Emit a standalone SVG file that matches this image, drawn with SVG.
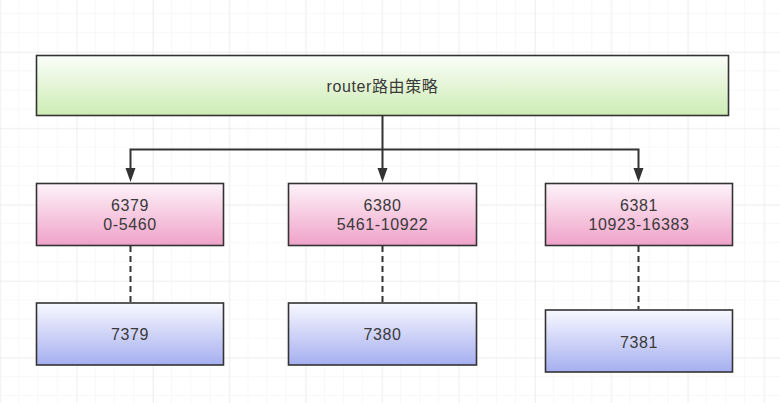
<svg xmlns="http://www.w3.org/2000/svg" width="780" height="403" viewBox="0 0 780 403">
<defs>
<pattern id="minor" width="19.1" height="19.1" patternUnits="userSpaceOnUse" x="0.2" y="14">
<path d="M19.1 0 V19.1 M0 19.1 H19.1" fill="none" stroke="#f1f1f1" stroke-width="1"/>
</pattern>
<pattern id="major" width="76.4" height="76.4" patternUnits="userSpaceOnUse" x="0.2" y="52">
<path d="M0 0 V76.4 M0 0 H76.4" fill="none" stroke="#e6e6e6" stroke-width="1"/>
</pattern>
<linearGradient id="gGreen" x1="0" y1="0" x2="0" y2="1">
<stop offset="0" stop-color="#fbfef9"/>
<stop offset="1" stop-color="#cdecb4"/>
</linearGradient>
<linearGradient id="gPink" x1="0" y1="0" x2="0" y2="1">
<stop offset="0" stop-color="#fdf3f9"/>
<stop offset="1" stop-color="#f0a2c9"/>
</linearGradient>
<linearGradient id="gBlue" x1="0" y1="0" x2="0" y2="1">
<stop offset="0" stop-color="#f8f8ff"/>
<stop offset="1" stop-color="#a6aff0"/>
</linearGradient>
<path id="head" d="M-5 0 L5 0 L0 14 Z" fill="#333"/>
</defs>
<style>
.box{stroke:#333;stroke-width:1.6}
.lbl{font-family:"Liberation Sans","Noto Sans CJK SC",sans-serif;font-size:16px;letter-spacing:0.6px;fill:#3a3a3a;text-anchor:middle;dominant-baseline:central}
.conn{fill:none;stroke:#333;stroke-width:2}
.dash{fill:none;stroke:#333;stroke-width:2;stroke-dasharray:6 4}
</style>
<rect width="780" height="403" fill="#ffffff"/>
<rect width="780" height="403" fill="url(#minor)"/>
<rect width="780" height="403" fill="url(#major)"/>

<g id="connectors">
<path class="conn" d="M382.5 116 V168.5"/>
<path class="conn" d="M382.5 149.5 H130.5 V168.5"/>
<path class="conn" d="M382.5 149.5 H638.5 V168.5"/>
<use href="#head" x="130.5" y="168"/>
<use href="#head" x="382.5" y="168"/>
<use href="#head" x="638.5" y="168"/>
<path class="dash" d="M130.5 246 V302"/>
<path class="dash" d="M382.5 246 V302"/>
<path class="dash" d="M638.5 246 V309"/>
</g>

<g id="router">
<rect class="box" x="36.5" y="55.5" width="692" height="60" fill="url(#gGreen)"/>
<text class="lbl" x="382.5" y="86">router路由策略</text>
</g>

<g id="m6379">
<rect class="box" x="36.5" y="183.5" width="187" height="62" fill="url(#gPink)"/>
<text class="lbl" x="130" y="205">6379</text>
<text class="lbl" x="130" y="224">0-5460</text>
</g>
<g id="m6380">
<rect class="box" x="288.5" y="183.5" width="188" height="62" fill="url(#gPink)"/>
<text class="lbl" x="382.5" y="205">6380</text>
<text class="lbl" x="382.5" y="224">5461-10922</text>
</g>
<g id="m6381">
<rect class="box" x="545.5" y="183.5" width="187" height="62" fill="url(#gPink)"/>
<text class="lbl" x="639" y="205">6381</text>
<text class="lbl" x="639" y="224">10923-16383</text>
</g>

<g id="s7379">
<rect class="box" x="36.5" y="303" width="187" height="62" fill="url(#gBlue)"/>
<text class="lbl" x="130" y="334">7379</text>
</g>
<g id="s7380">
<rect class="box" x="288.5" y="303" width="188" height="62" fill="url(#gBlue)"/>
<text class="lbl" x="382.5" y="334">7380</text>
</g>
<g id="s7381">
<rect class="box" x="545.5" y="310" width="187" height="62" fill="url(#gBlue)"/>
<text class="lbl" x="639" y="342">7381</text>
</g>
</svg>
